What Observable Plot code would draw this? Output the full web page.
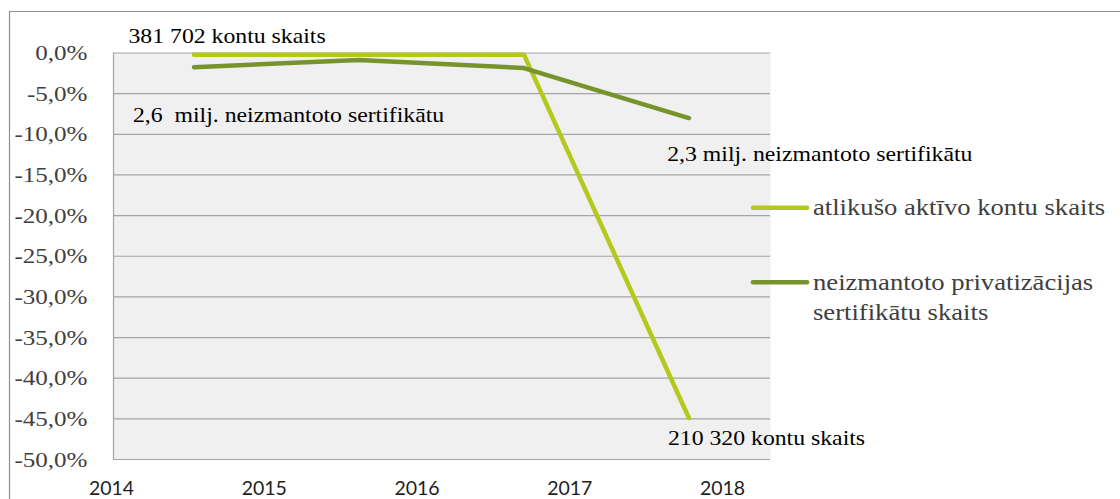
<!DOCTYPE html>
<html>
<head>
<meta charset="utf-8">
<script src="https://cdn.jsdelivr.net/npm/d3@7"></script>
<script src="https://cdn.jsdelivr.net/npm/@observablehq/plot@0.6"></script>
<style>
  html, body { margin: 0; padding: 0; background: #fff; }
  svg text { white-space: pre; }
</style>
</head>
<body>
<div id="chart"></div>
<script>
// ---- data ----
const years = [2014, 2015, 2016, 2017, 2018];            // x tick labels
const yTicks = [0, -5, -10, -15, -20, -25, -30, -35, -40, -45, -50];
const pointYears = [2014.54, 2015.62, 2016.70, 2017.78];  // where the points sit on the year axis
const seriesNames = ["atlikušo aktīvo kontu skaits", "neizmantoto privatizācijas\nsertifikātu skaits"];
const activeAccounts = [-0.2, -0.2, -0.2, -44.9];          // % change
const unusedCertificates = [-1.75, -0.85, -1.85, -8.0];    // % change
const annotations = [
  "381 702 kontu skaits",
  "2,6  milj. neizmantoto sertifikātu",
  "2,3 milj. neizmantoto sertifikātu",
  "210 320 kontu skaits"
];

const colors = ["#b3c91d", "#77942c"];
const rows = [
  ...pointYears.map((x, i) => ({series: 0, x, y: activeAccounts[i]})),
  ...pointYears.map((x, i) => ({series: 1, x, y: unusedCertificates[i]}))
];
const s0 = rows.filter(d => d.series === 0);
const s1 = rows.filter(d => d.series === 1);
const serif = "Liberation Serif";

const plot = Plot.plot({
  width: 1120,
  height: 499,
  marginLeft: 113,
  marginRight: 350,
  marginTop: 52.5,
  marginBottom: 40,
  style: {background: "#fff", overflow: "visible"},
  x: {type: "linear", domain: [2014.013, 2018.314], axis: null, label: null},
  y: {domain: [-50, 0], axis: null, label: null},
  marks: [
    Plot.frame({fill: "#f0f0f0", stroke: null}),
    Plot.ruleY(yTicks, {stroke: "#a5a5a5", strokeWidth: 1.2, strokeOpacity: 1}),
    Plot.ruleX([2014.013], {stroke: "#a5a5a5", strokeWidth: 1.2}),
    Plot.axisY({ticks: yTicks, tickSize: 0, tickPadding: 26, fontSize: 22, fontFamily: serif,
      color: "#404040", tickFormat: d => d.toFixed(1).replace(".", ",") + "%", label: null}),
    Plot.axisX({ticks: years, tickSize: 0, tickPadding: 21.5, fontSize: 19.5, fontFamily: "Lato",
      color: "#1e1e1e", tickFormat: d => String(d), label: null}),
    Plot.line(s0, {x: "x", y: "y", stroke: colors[0], strokeWidth: 4.5, strokeLinecap: "round", strokeLinejoin: "round"}),
    Plot.line(s1, {x: "x", y: "y", stroke: colors[1], strokeWidth: 4.5, strokeLinecap: "round", strokeLinejoin: "round"}),
    Plot.text([s0[0]], {x: "x", y: "y", text: () => annotations[0], textAnchor: "start", lineAnchor: "middle", dx: -65.5, dy: -18.3, fontSize: 22, fontFamily: serif, fill: "#000"}),
    Plot.text([s1[0]], {x: "x", y: "y", text: () => annotations[1], textAnchor: "start", lineAnchor: "middle", dx: -61, dy: 47.3, fontSize: 22, fontFamily: serif, fill: "#000"}),
    Plot.text([s1[3]], {x: "x", y: "y", text: () => annotations[2], textAnchor: "start", lineAnchor: "middle", dx: -21.7, dy: 36.4, fontSize: 22, fontFamily: serif, fill: "#000"}),
    Plot.text([s0[3]], {x: "x", y: "y", text: () => annotations[3], textAnchor: "start", lineAnchor: "middle", dx: -21, dy: 20, fontSize: 22, fontFamily: serif, fill: "#000"})
  ]
});

document.getElementById("chart").appendChild(plot);

// legend + outer border
const svg = d3.select(plot);
svg.append("path").attr("d", "M9.5,499V11.5H1120").attr("fill", "none").attr("stroke", "#8f8f8f").attr("stroke-width", 1.2);
const legend = svg.append("g").attr("font-family", serif).attr("font-size", 24).attr("fill", "#404040").attr("text-anchor", "start");
[[207.7], [282.3]].forEach(([ly], i) => {
  legend.append("line").attr("x1", 753).attr("x2", 807).attr("y1", ly).attr("y2", ly)
    .attr("stroke", colors[i]).attr("stroke-width", 4.5).attr("stroke-linecap", "round");
  const t = legend.append("text").attr("text-anchor", "start").attr("transform", `translate(813,${ly})`);
  seriesNames[i].split("\n").forEach((line, j) => {
    t.append("tspan").attr("x", 0).attr("y", j * 30).attr("dy", "0.32em").text(line);
  });
});

// the reference's serif text is horizontally stretched
function stretchTexts(sel, k) {
  sel.each(function() {
    const tr = this.getAttribute("transform") || "";
    this.setAttribute("transform", tr + ` scale(${k},1)`);
  });
}
stretchTexts(svg.selectAll('g[aria-label="y-axis tick label"] text'), 1.14);
stretchTexts(svg.selectAll('g[aria-label="text"] text'), 1.08);
stretchTexts(legend.selectAll("text"), 1.11);
</script>
</body>
</html>
